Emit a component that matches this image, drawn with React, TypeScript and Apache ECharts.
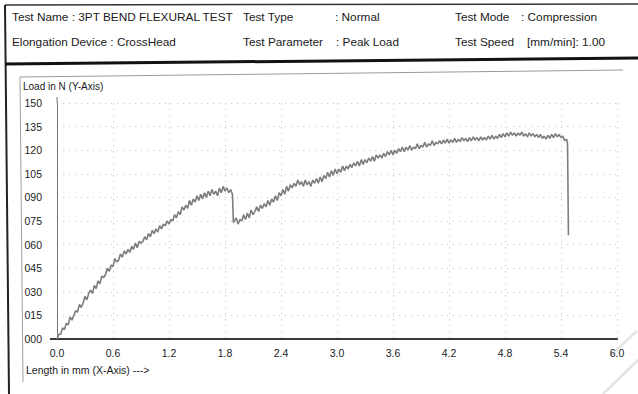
import React, { useEffect, useRef } from "react";
import * as echarts from "echarts";

// Flexural test record: crosshead travel (mm) against load (N)
const lengthMm = [
  0.0, 0.02, 0.04, 0.06, 0.08, 0.1, 0.12, 0.14, 0.16, 0.18,
  0.2, 0.22, 0.24, 0.26, 0.28, 0.3, 0.32, 0.34, 0.36, 0.38,
  0.4, 0.42, 0.44, 0.46, 0.48, 0.5, 0.52, 0.54, 0.56, 0.58,
  0.6, 0.62, 0.64, 0.66, 0.68, 0.7, 0.72, 0.74, 0.76, 0.78,
  0.8, 0.82, 0.84, 0.86, 0.88, 0.9, 0.92, 0.94, 0.96, 0.98,
  1.0, 1.02, 1.04, 1.06, 1.08, 1.1, 1.12, 1.14, 1.16, 1.18,
  1.2, 1.22, 1.24, 1.26, 1.28, 1.3, 1.32, 1.34, 1.36, 1.38,
  1.4, 1.42, 1.44, 1.46, 1.48, 1.5, 1.52, 1.54, 1.56, 1.58,
  1.6, 1.62, 1.64, 1.66, 1.68, 1.7, 1.72, 1.74, 1.76, 1.78,
  1.8, 1.82, 1.84, 1.86, 1.88, 1.89,
  1.92, 1.94, 1.96, 1.98, 2.0, 2.02, 2.04, 2.06, 2.08, 2.1,
  2.12, 2.14, 2.16, 2.18, 2.2, 2.22, 2.24, 2.26, 2.28, 2.3,
  2.32, 2.34, 2.36, 2.38, 2.4, 2.42, 2.44, 2.46, 2.48, 2.5,
  2.52, 2.54, 2.56, 2.58, 2.6, 2.62, 2.64, 2.66, 2.68, 2.7,
  2.72, 2.74, 2.76, 2.78, 2.8, 2.82, 2.84, 2.86, 2.88, 2.9,
  2.92, 2.94, 2.96, 2.98, 3.0, 3.02, 3.04, 3.06, 3.08, 3.1,
  3.12, 3.14, 3.16, 3.18, 3.2, 3.22, 3.24, 3.26, 3.28, 3.3,
  3.32, 3.34, 3.36, 3.38, 3.4, 3.42, 3.44, 3.46, 3.48, 3.5,
  3.52, 3.54, 3.56, 3.58, 3.6, 3.62, 3.64, 3.66, 3.68, 3.7,
  3.72, 3.74, 3.76, 3.78, 3.8, 3.82, 3.84, 3.86, 3.88, 3.9,
  3.92, 3.94, 3.96, 3.98, 4.0, 4.02, 4.04, 4.06, 4.08, 4.1,
  4.12, 4.14, 4.16, 4.18, 4.2, 4.22, 4.24, 4.26, 4.28, 4.3,
  4.32, 4.34, 4.36, 4.38, 4.4, 4.42, 4.44, 4.46, 4.48, 4.5,
  4.52, 4.54, 4.56, 4.58, 4.6, 4.62, 4.64, 4.66, 4.68, 4.7,
  4.72, 4.74, 4.76, 4.78, 4.8, 4.82, 4.84, 4.86, 4.88, 4.9,
  4.92, 4.94, 4.96, 4.98, 5.0, 5.02, 5.04, 5.06, 5.08, 5.1,
  5.12, 5.14, 5.16, 5.18, 5.2, 5.22, 5.24, 5.26, 5.28, 5.3,
  5.32, 5.34, 5.36, 5.38, 5.4, 5.42, 5.44, 5.46, 5.47, 5.48,
];

const loadN = [
  0, 3, 3, 7, 6, 10, 9, 14, 12, 15,
  18, 17, 22, 20, 23, 27, 25, 29, 31, 29,
  34, 32, 37, 35, 40, 39, 41, 45, 43, 47,
  46, 51, 49, 50, 54, 52, 56, 54, 57, 55,
  59, 57, 61, 58, 62, 61, 62, 65, 63, 67,
  65, 69, 67, 70, 68, 72, 70, 73, 72, 75,
  73, 76, 75, 79, 77, 81, 79, 84, 82, 85,
  83, 88, 85, 89, 87, 91, 88, 92, 89, 93,
  90, 94, 91, 95, 92, 94, 91, 96, 93, 97,
  94, 96, 93, 95, 92, 74,
  77, 73, 76, 75, 79, 76, 80, 77, 82, 79,
  81, 84, 81, 85, 83, 86, 84, 88, 85, 89,
  87, 91, 88, 93, 91, 95, 92, 97, 94, 98,
  96, 99, 97, 101, 98, 100, 97, 101, 98, 100,
  97, 101, 99, 102, 99, 103, 100, 104, 102, 106,
  103, 107, 104, 108, 105, 108, 106, 110, 107, 110,
  108, 111, 109, 112, 110, 113, 110, 114, 111, 114,
  112, 115, 113, 116, 113, 117, 115, 117, 115, 118,
  116, 119, 117, 120, 117, 120, 118, 121, 119, 122,
  119, 122, 120, 123, 120, 122, 121, 124, 121, 123,
  122, 125, 122, 124, 123, 126, 123, 125, 124, 126,
  124, 126.5, 124.5, 127, 124.5, 126.5, 125, 127.5, 125, 127,
  125.5, 128, 126, 127.5, 125.5, 128, 126, 128.5, 126.5, 128,
  126, 128.5, 126.5, 128, 126.5, 129, 127, 129.5, 127, 129,
  127.5, 130, 128, 130.5, 128.5, 131, 129, 131.5, 129.5, 131,
  129, 131, 129.5, 131.5, 129, 130.5, 128.5, 131, 129, 130.5,
  128.5, 130, 128, 130, 127.5, 129, 127, 129.5, 127.5, 130,
  128, 130.5, 128.5, 130, 128, 129, 126, 127, 124, 66,
];

const xTicks = { min: 0, max: 6, interval: 0.6 };
const yTicks = { min: 0, max: 150, interval: 15 };

const headerRow1 = [
  { text: "Test Name : 3PT BEND FLEXURAL TEST", x: 12 },
  { text: "Test Type", x: 243 },
  { text: ": Normal", x: 335 },
  { text: "Test Mode", x: 455 },
  { text: ": Compression", x: 521 },
];
const headerRow2 = [
  { text: "Elongation Device : CrossHead", x: 12 },
  { text: "Test Parameter", x: 243 },
  { text: ": Peak Load", x: 336 },
  { text: "Test Speed", x: 455 },
  { text: "[mm/min]: 1.00", x: 527 },
];

const FONT = '"Liberation Sans", Arial, sans-serif';

function headerText(item: { text: string; x: number }, y: number) {
  return {
    type: "text",
    x: item.x,
    y,
    style: {
      text: item.text,
      fontSize: 11.8,
      fontFamily: FONT,
      fill: "#1a1a1a",
      verticalAlign: "middle",
    },
  };
}

function frameLine(x1: number, y1: number, x2: number, y2: number, stroke: string, lineWidth: number) {
  return {
    type: "line",
    shape: { x1, y1, x2, y2 },
    style: { stroke, lineWidth },
    silent: true,
  };
}

export default function App() {
  const ref = useRef<HTMLDivElement>(null);

  useEffect(() => {
    if (!ref.current) return;
    const chart = echarts.init(ref.current, null, { renderer: "svg" });
    const points = lengthMm.map((x, i) => [x, loadN[i]]);

    chart.setOption({
      animation: false,
      backgroundColor: "#ffffff",
      grid: { left: 57, right: 21, top: 103, bottom: 55, containLabel: false },
      xAxis: {
        type: "value",
        min: xTicks.min,
        max: xTicks.max,
        interval: xTicks.interval,
        axisLine: { show: true, lineStyle: { color: "#3a3a3a", width: 2 } },
        axisTick: { show: false },
        axisLabel: {
          formatter: (v: number) => v.toFixed(1),
          fontSize: 10.5,
          fontFamily: FONT,
          color: "#222",
          margin: 8,
        },
        splitLine: { show: true, lineStyle: { color: "#c8c8c8", width: 1, type: [1, 5] } },
      },
      yAxis: {
        type: "value",
        min: yTicks.min,
        max: yTicks.max,
        interval: yTicks.interval,
        axisLine: { show: true, lineStyle: { color: "#777", width: 1 } },
        axisTick: { show: false },
        axisLabel: {
          formatter: (v: number) => String(Math.round(v)).padStart(3, "0"),
          fontSize: 10.5,
          fontFamily: FONT,
          color: "#222",
          margin: 15,
        },
        splitLine: { show: true, lineStyle: { color: "#c8c8c8", width: 1, type: [1, 5] } },
      },
      series: [
        {
          type: "line",
          data: points,
          showSymbol: false,
          smooth: false,
          lineStyle: { color: "#7d7d7d", width: 1.6 },
          z: 5,
        },
      ],
      graphic: [
        // printed frame of the test sheet
        frameLine(5, 5, 638, 4, "#333", 1.5),
        frameLine(5, 5, 9, 394, "#222", 2),
        frameLine(5, 64, 638, 58, "#111", 3),
        frameLine(20, 77, 623, 70, "#9a9a9a", 1),
        frameLine(20, 77, 23, 382, "#a0a0a0", 1),
        // axis lines run a little past the plot corner
        frameLine(50, 339, 57, 339, "#3a3a3a", 2),
        frameLine(57, 97, 57, 103, "#777", 1),
        ...headerRow1.map((h) => headerText(h, 17)),
        ...headerRow2.map((h) => headerText(h, 42)),
        {
          type: "text",
          x: 23,
          y: 86,
          style: {
            text: "Load in N (Y-Axis)",
            fontSize: 10,
            fontFamily: FONT,
            fill: "#1a1a1a",
            verticalAlign: "middle",
          },
        },
        {
          type: "text",
          x: 26,
          y: 370,
          style: {
            text: "Length in mm (X-Axis) --->",
            fontSize: 10.5,
            fontFamily: FONT,
            fill: "#1a1a1a",
            verticalAlign: "middle",
          },
        },
        // faint stamp strokes in the corner
        frameLine(610, 356, 637, 331, "#e6e6e6", 3),
        frameLine(603, 394, 638, 360, "#e6e6e6", 3),
      ],
    });

    return () => chart.dispose();
  }, []);

  return (
    <div
      ref={ref}
      style={{ position: "fixed", left: 0, top: 0, width: 638, height: 394, background: "#fff" }}
    />
  );
}
